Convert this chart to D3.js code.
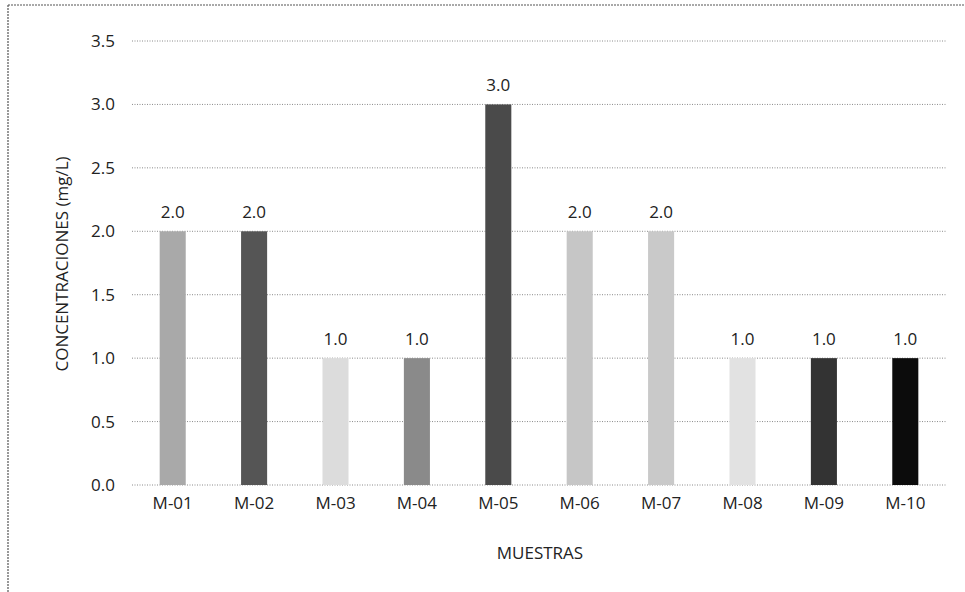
<!DOCTYPE html>
<html><head><meta charset="utf-8">
<script src="https://cdn.jsdelivr.net/npm/d3@7"></script>
<style>body{margin:0;background:#fff}svg{display:block}text{font-family:"Open Sans",Lato,sans-serif;fill:#222}</style>
</head><body>
<svg id="chart" width="965" height="592"></svg>
<script>
const categories = ["M-01","M-02","M-03","M-04","M-05","M-06","M-07","M-08","M-09","M-10"];
const values = [2.0,2.0,1.0,1.0,3.0,2.0,2.0,1.0,1.0,1.0];
const barColors = ["#a9a9a9","#555555","#dcdcdc","#8a8a8a","#4a4a4a","#c6c6c6","#c9c9c9","#e2e2e2","#333333","#0c0c0c"];
const yTicks = [0,0.5,1.0,1.5,2.0,2.5,3.0,3.5];

const svg = d3.select("#chart");
const m = {left:132, right:19, top:41, bottom:107};
const W = 965, H = 592;
const FS = 17;

// frame (left and top edges)
svg.append("line").attr("x1",8).attr("x2",8).attr("y1",5).attr("y2",H)
  .attr("stroke","#555").attr("stroke-width",1.2).attr("stroke-dasharray","2,1");
svg.append("line").attr("x1",8).attr("x2",W).attr("y1",5).attr("y2",5)
  .attr("stroke","#555").attr("stroke-width",1.2).attr("stroke-dasharray","2,1");

const x = d3.scaleBand().domain(categories).range([m.left, W-m.right]).paddingInner(0.68).paddingOuter(0.34);
const y = d3.scaleLinear().domain([0,3.5]).range([H-m.bottom, m.top]);

const g = svg.append("g");
// gridlines
g.selectAll("line.grid").data(yTicks).join("line").attr("class","grid")
  .attr("x1",m.left).attr("x2",W-m.right).attr("y1",d=>y(d)).attr("y2",d=>y(d))
  .attr("stroke","#8a8a8a").attr("stroke-width",1).attr("stroke-dasharray","1,1.5");

// y axis
const yAxis = d3.axisLeft(y).tickValues(yTicks).tickFormat(d3.format(".1f")).tickSize(0).tickPadding(17);
const ya = svg.append("g").attr("transform",`translate(${m.left},0)`).call(yAxis);
ya.select(".domain").remove();
ya.selectAll("text").attr("font-size",FS).attr("fill","#222").attr("font-family","'Open Sans',sans-serif");

// x axis
const xAxis = d3.axisBottom(x).tickSize(0).tickPadding(12);
const xa = svg.append("g").attr("transform",`translate(0,${y(0)})`).call(xAxis);
xa.select(".domain").remove();
xa.selectAll("text").attr("font-size",FS).attr("fill","#222").attr("font-family","'Open Sans',sans-serif");

// bars
svg.selectAll("rect.bar").data(values).join("rect").attr("class","bar")
  .attr("x",(d,i)=>x(categories[i])).attr("width",x.bandwidth())
  .attr("y",d=>y(d)).attr("height",d=>y(0)-y(d))
  .attr("fill",(d,i)=>barColors[i]);

// value labels
svg.selectAll("text.val").data(values).join("text").attr("class","val")
  .attr("x",(d,i)=>x(categories[i])+x.bandwidth()/2).attr("y",d=>y(d)-13)
  .attr("text-anchor","middle").attr("font-size",FS).text(d=>d3.format(".1f")(d));

// axis titles
svg.append("text").attr("x",540).attr("y",559).attr("text-anchor","middle").attr("font-size",FS).text("MUESTRAS");
svg.append("text").attr("transform","translate(68,264) rotate(-90)").attr("text-anchor","middle").attr("font-size",FS).text("CONCENTRACIONES (mg/L)");
</script>
</body></html>
